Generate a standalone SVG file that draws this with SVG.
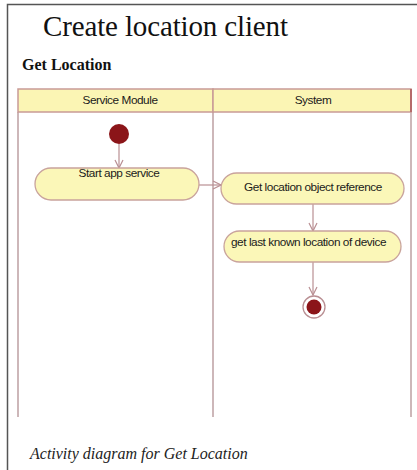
<svg xmlns="http://www.w3.org/2000/svg" width="417" height="470" viewBox="0 0 417 470">
<style>
.lane{fill:none;stroke:#cdb7b9;stroke-width:2}
.hdr{fill:#fbf5b4;stroke:#c99a96;stroke-width:1.5}
.act{fill:#fbf7b8;stroke:#c9a39c;stroke-width:1.3}
.lbl{font-family:"Liberation Sans",Arial,sans-serif;font-size:11.8px;fill:#1a1a1a;letter-spacing:-0.45px}
.edge{fill:none;stroke:#b98f93;stroke-width:1.2}
</style>
<defs>
<marker id="ah" markerWidth="10" markerHeight="10" refX="9" refY="5" orient="auto" markerUnits="userSpaceOnUse">
<path d="M1,1 L9,5 L1,9" fill="none" stroke="#b98f93" stroke-width="1.2"/>
</marker>
</defs>
<rect width="417" height="470" fill="#fff"/>
<path d="M7.5,470 V4.5 H417" fill="none" stroke="#555" stroke-width="1.5"/>
<text x="43" y="36" font-family="'Liberation Serif','Times New Roman',serif" font-size="29" fill="#111" textLength="245">Create location client</text>
<text x="22" y="70" font-family="'Liberation Serif','Times New Roman',serif" font-size="16" font-weight="bold" fill="#111">Get Location</text>
<g id="lanes">
<line class="lane" x1="18" y1="112" x2="18" y2="417"/>
<line class="lane" x1="213" y1="112" x2="213" y2="417"/>
<line class="lane" x1="411" y1="112" x2="411" y2="417"/>
<rect class="hdr" x="18" y="89" width="195" height="23"/>
<rect class="hdr" x="213" y="89" width="198" height="23"/>
<line x1="411" y1="89" x2="411" y2="112" stroke="#b56a6a" stroke-width="2"/>
<text class="lbl" x="120" y="104" text-anchor="middle">Service Module</text>
<text class="lbl" x="313" y="104" text-anchor="middle">System</text>
</g>
<g id="connectors">
<line class="edge" x1="119" y1="144" x2="119" y2="168" marker-end="url(#ah)"/>
<line class="edge" x1="199" y1="185" x2="221" y2="185" marker-end="url(#ah)"/>
<line class="edge" x1="313" y1="204" x2="313" y2="231" marker-end="url(#ah)"/>
<line class="edge" x1="313" y1="262" x2="313" y2="295" marker-end="url(#ah)"/>
</g>
<g id="initial">
<circle cx="119" cy="134" r="10" fill="#8b1519"/>
</g>
<g id="start-app-service">
<rect class="act" x="35" y="168" width="164" height="32" rx="16"/>
<text class="lbl" x="119" y="177" text-anchor="middle">Start app service</text>
</g>
<g id="get-location-object">
<rect class="act" x="221" y="173" width="183" height="31" rx="15.5"/>
<text class="lbl" x="313" y="191" text-anchor="middle">Get location object reference</text>
</g>
<g id="get-last-known">
<rect class="act" x="224" y="231" width="177" height="31" rx="15.5"/>
<text class="lbl" x="231" y="246">get last known location of device</text>
</g>
<g id="final">
<circle cx="314" cy="307" r="11" fill="#fff" stroke="#b98f93" stroke-width="1.3"/>
<circle cx="314" cy="307" r="7.5" fill="#8b1519"/>
</g>
<text x="30" y="459" font-family="'Liberation Serif','Times New Roman',serif" font-size="16" font-style="italic" fill="#222">Activity diagram for Get Location</text>
</svg>
